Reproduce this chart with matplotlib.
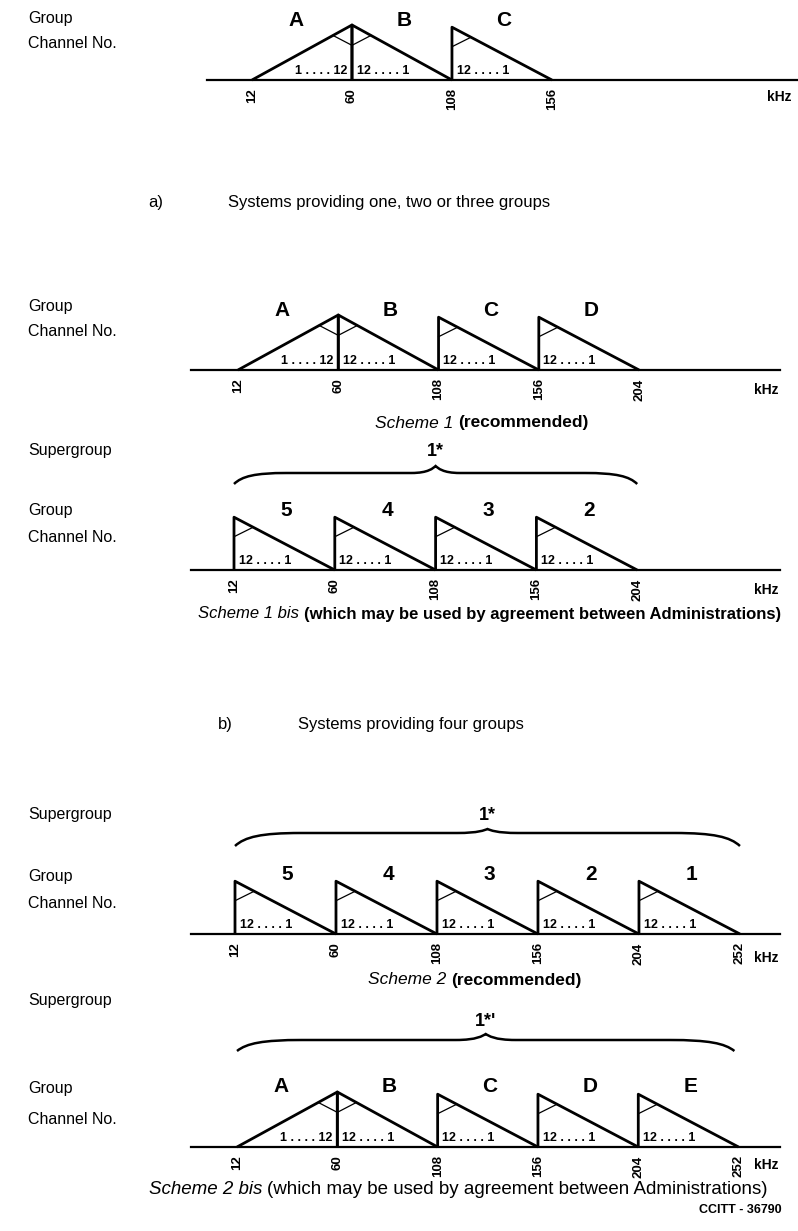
import matplotlib
matplotlib.use('Agg')
import matplotlib.pyplot as plt
from matplotlib.path import Path
from matplotlib.patches import PathPatch

plt.rcParams['font.family'] = ['Liberation Sans', 'DejaVu Sans']

W, H = 798, 1231
UNIT = 55.0   # px per unit of triangle height

# ---- data (kHz edges, group names, erect/inverted band)
p1_edges = [12, 60, 108, 156]
p1_groups = ['A', 'B', 'C']
p1_shape = ['up', 'down', 'down']

s1_edges = [12, 60, 108, 156, 204]
s1_groups = ['A', 'B', 'C', 'D']
s1_shape = ['up', 'down', 'down', 'down']

s1b_edges = [12, 60, 108, 156, 204]
s1b_groups = ['5', '4', '3', '2']
s1b_shape = ['down', 'down', 'down', 'down']

s2_edges = [12, 60, 108, 156, 204, 252]
s2_groups = ['5', '4', '3', '2', '1']
s2_shape = ['down', 'down', 'down', 'down', 'down']

s2b_edges = [12, 60, 108, 156, 204, 252]
s2b_groups = ['A', 'B', 'C', 'D', 'E']
s2b_shape = ['up', 'down', 'down', 'down', 'down']

chan_text = {'up': '1 . . . . 12', 'down': '12 . . . . 1'}

fig = plt.figure(figsize=(W / 100, H / 100), dpi=100)
ov = fig.add_axes([0, 0, 1, 1])
ov.set_xlim(0, W)
ov.set_ylim(H, 0)
ov.axis('off')


def panel(base, px12, scale, x0, x1, edges, groups, shapes):
    ax = fig.add_axes([x0 / W, 1 - base / H, (x1 - x0) / W, 80 / H])
    ax.set_xlim(12 - (px12 - x0) / scale, 12 + (x1 - px12) / scale)
    ax.set_ylim(0, 80 / UNIT)
    ax.patch.set_alpha(0)
    for s in ['top', 'left', 'right']:
        ax.spines[s].set_visible(False)
    ax.spines['bottom'].set_linewidth(1.6)
    ax.set_yticks([])
    ax.set_xticks(edges)
    ax.set_xticklabels([str(e) for e in edges], rotation=90,
                       fontsize=9.5, fontweight='bold')
    ax.tick_params(axis='x', length=0, pad=6)

    for i, (g, sh) in enumerate(zip(groups, shapes)):
        lo, hi = edges[i], edges[i + 1]
        w = hi - lo
        apex = sh == 'up' or (i > 0 and shapes[i - 1] == 'up')
        pk = 1.0 if apex else 0.96
        kw = dict(color='k', lw=2.0, solid_capstyle='butt', clip_on=False)
        fk = dict(color='k', lw=0.9, clip_on=False)
        if sh == 'up':
            ax.plot([lo, hi, hi], [0, pk, 0], **kw)
            ax.plot([hi - 0.19 * w, hi], [0.81 * pk, 0.63 * pk], **fk)
            ax.text(hi - 2.2, 0.16, chan_text[sh], ha='right', va='center',
                    fontsize=9, fontweight='bold')
            ax.text((lo + hi) / 2 - 3, 60 / UNIT, g, ha='center', va='center',
                    fontsize=15, fontweight='bold')
        else:
            ax.plot([lo, lo, hi], [0, pk, 0], **kw)
            ax.plot([lo, lo + 0.19 * w], [0.63 * pk, 0.81 * pk], **fk)
            ax.text(lo + 2.2, 0.16, chan_text[sh], ha='left', va='center',
                    fontsize=9, fontweight='bold')
            ax.text((lo + hi) / 2 + 1, 60 / UNIT, g, ha='center', va='center',
                    fontsize=15, fontweight='bold')
    return ax


def brace(ax, lo, hi, ye, yf, yc, label, ylab):
    xc = (lo + hi) / 2
    L = hi - lo
    a, b = 0.13 * L, 0.06 * L
    d = 0.3 * (yc - yf)
    verts = [(lo, ye), (lo + 0.15 * a, ye + 0.7 * (yf - ye)), (lo + 0.4 * a, yf), (lo + a, yf),
             (xc - b, yf),
             (xc - 0.3 * b, yf), (xc - 0.1 * b, yc - d), (xc, yc),
             (xc + 0.1 * b, yc - d), (xc + 0.3 * b, yf), (xc + b, yf),
             (hi - a, yf),
             (hi - 0.4 * a, yf), (hi - 0.15 * a, ye + 0.7 * (yf - ye)), (hi, ye)]
    codes = [Path.MOVETO] + [Path.CURVE4] * 3 + [Path.LINETO] + [Path.CURVE4] * 6 + \
            [Path.LINETO] + [Path.CURVE4] * 3
    ax.add_patch(PathPatch(Path(verts, codes), fc='none', ec='k', lw=1.8, clip_on=False))
    ax.text(xc, ylab, label, ha='center', va='center', fontsize=13, fontweight='bold')


def mixed(xc, y, parts, size=12.5, gap=5):
    r = fig.canvas.get_renderer()
    texts, widths = [], []
    for s, style, weight in parts:
        t = ov.text(0, y, s, fontsize=size, style=style, fontweight=weight,
                    ha='left', va='center')
        widths.append(t.get_window_extent(renderer=r).width)
        texts.append(t)
    x = xc - (sum(widths) + gap * (len(parts) - 1)) / 2
    for t, w in zip(texts, widths):
        t.set_x(x)
        x += w + gap


def left(y, s):
    ov.text(28, y, s, ha='left', va='center', fontsize=11.5)


def khz(x, y):
    ov.text(x, y, 'kHz', ha='left', va='center', fontsize=10, fontweight='bold')


# ---- a) one, two or three groups
left(18, 'Group')
left(43, 'Channel No.')
panel(80, 252, 2.083, 207, 798, p1_edges, p1_groups, p1_shape)
khz(767, 97)
ov.text(148, 202, 'a)', ha='left', va='center', fontsize=12)
ov.text(228, 202, 'Systems providing one, two or three groups', ha='left', va='center', fontsize=12)

# ---- b) Scheme 1
left(306, 'Group')
left(332, 'Channel No.')
panel(370, 238, 2.089, 191, 780, s1_edges, s1_groups, s1_shape)
khz(754, 390)
mixed(482, 423, [('Scheme 1', 'italic', 'normal'), ('(recommended)', 'normal', 'bold')])

# Scheme 1 bis
left(451, 'Supergroup')
left(510, 'Group')
left(538, 'Channel No.')
ax = panel(570, 234, 2.10, 191, 780, s1b_edges, s1b_groups, s1b_shape)
brace(ax, 12, 204, 86 / UNIT, 97 / UNIT, 104 / UNIT, '1*', 119 / UNIT)
khz(754, 590)
mixed(490, 614, [('Scheme 1 bis', 'italic', 'normal'),
                 ('(which may be used by agreement between Administrations)', 'normal', 'bold')],
      size=12)

ov.text(218, 724, 'b)', ha='left', va='center', fontsize=12)
ov.text(298, 724, 'Systems providing four groups', ha='left', va='center', fontsize=12)

# ---- Scheme 2
left(815, 'Supergroup')
left(877, 'Group')
left(903, 'Channel No.')
ax = panel(934, 235, 2.104, 191, 780, s2_edges, s2_groups, s2_shape)
brace(ax, 12, 252, 88 / UNIT, 101 / UNIT, 105 / UNIT, '1*', 119 / UNIT)
khz(754, 958)
mixed(475, 980, [('Scheme 2', 'italic', 'normal'), ('(recommended)', 'normal', 'bold')])

# Scheme 2 bis
left(1000, 'Supergroup')
left(1088, 'Group')
left(1120, 'Channel No.')
ax = panel(1147, 237, 2.09, 191, 780, s2b_edges, s2b_groups, s2b_shape)
brace(ax, 12, 250, 96 / UNIT, 107 / UNIT, 113 / UNIT, "1*'", 125 / UNIT)
khz(754, 1165)
mixed(458, 1189, [('Scheme 2 bis', 'italic', 'normal'),
                  ('(which may be used by agreement between Administrations)', 'normal', 'normal')],
      size=13.5)
ov.text(782, 1210, 'CCITT - 36790', ha='right', va='center', fontsize=9, fontweight='bold')

fig.savefig('out.png', dpi=100)
